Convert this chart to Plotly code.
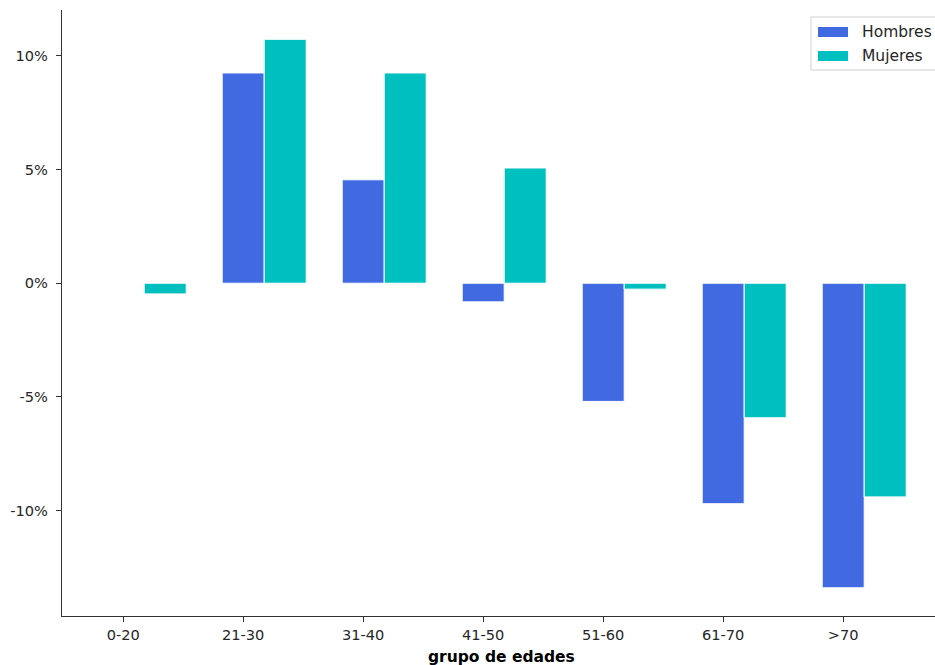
import plotly.graph_objects as go

# Age groups and change (%) per sex
grupos = ["0-20", "21-30", "31-40", "41-50", "51-60", "61-70", ">70"]
hombres = [0.0, 9.25, 4.55, -0.82, -5.2, -9.7, -13.4]
mujeres = [-0.47, 10.73, 9.25, 5.07, -0.26, -5.92, -9.4]
y_ticks = [-10, -5, 0, 5, 10]
y_tick_labels = ["-10%", "-5%", "0%", "5%", "10%"]

ancho = 0.35
pos = list(range(len(grupos)))

color_h = "#4169E1"
color_m = "#00BFBF"
font_fam = "DejaVu Sans"

fig = go.Figure()
fig.add_trace(go.Bar(
    x=pos, y=hombres, width=ancho, name="Hombres",
    marker=dict(color=color_h, line=dict(color="white", width=1)),
))
fig.add_trace(go.Bar(
    x=[p + ancho for p in pos], y=mujeres, width=ancho, name="Mujeres",
    marker=dict(color=color_m, line=dict(color="white", width=1)),
))

W, H = 935, 665
ml, mr, mt, mb = 62, 0, 10, 49

fig.update_layout(
    width=W, height=H,
    margin=dict(l=ml, r=mr, t=mt, b=mb),
    paper_bgcolor="white", plot_bgcolor="white",
    showlegend=False, barmode="overlay",
    font=dict(family=font_fam, size=14.6, color="#262626"),
    xaxis=dict(
        range=[-0.51, 6.765], tickvals=pos, ticktext=grupos,
        showgrid=False, zeroline=False,
        showline=True, linecolor="#333", linewidth=1.3,
        ticks="outside", ticklen=5, tickwidth=1.3, tickcolor="#333",
    ),
    yaxis=dict(
        range=[-14.64, 12.02], tickvals=y_ticks, ticktext=y_tick_labels,
        showgrid=False, zeroline=False,
        showline=True, linecolor="#333", linewidth=1.3,
        ticks="outside", ticklen=5, tickwidth=1.3, tickcolor="#333",
        ticklabelstandoff=5,
    ),
)


def to_px(x, y):
    return ((x - ml) / (W - ml - mr), 1 - (y - mt) / (H - mt - mb))


# x-axis title
tx, ty = to_px(501, 657)
fig.add_annotation(
    text="<b>grupo de edades</b>", xref="paper", yref="paper",
    x=tx, y=ty, xanchor="center", yanchor="middle", showarrow=False,
    font=dict(family=font_fam, size=15.5, color="black"),
)


def rect_px(x0, y0, x1, y1, **kw):
    a = to_px(x0, y0)
    b = to_px(x1, y1)
    fig.add_shape(type="rect", xref="paper", yref="paper",
                  x0=a[0], y0=b[1], x1=b[0], y1=a[1], **kw)


# legend box with colour patches
rect_px(811, 17, 945, 70, line=dict(color="#d0d0d0", width=1),
        fillcolor="rgba(255,255,255,0.8)", layer="above")

for nombre, col, yc in [("Hombres", color_h, 32), ("Mujeres", color_m, 56)]:
    rect_px(818, yc - 5, 848, yc + 5, line=dict(width=0), fillcolor=col,
            layer="above")
    xa, ya = to_px(860, yc)
    fig.add_annotation(text=nombre, xref="paper", yref="paper", x=xa, y=ya,
                       xanchor="left", yanchor="middle", showarrow=False,
                       font=dict(family=font_fam, size=15.5, color="#262626"))

fig.write_html("out.html")
